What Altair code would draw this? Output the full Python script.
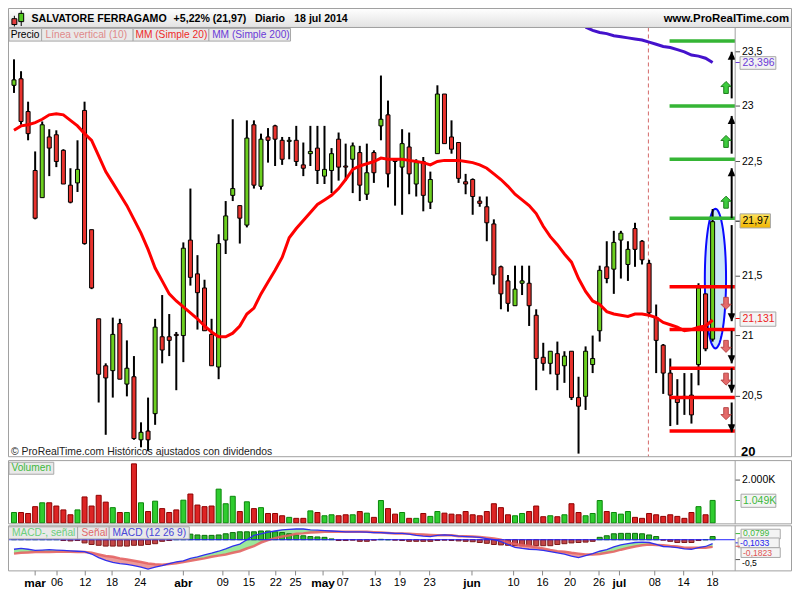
import math
import pandas as pd
import altair as alt

FONT = "Liberation Sans"
SX = 784 / 800
SY = 584 / 600


def X(v):
    return round(v * SX, 2)


def Y(v):
    return round(v * SY, 2)


# ------------------------------------------------------------------ data
opens = [23.19, 23.25, 22.95, 22.42, 22.18, 22.72, 22.74, 22.60, 22.29, 22.31,
         22.96, 21.90, 21.14, 20.75, 20.71, 21.10, 20.60, 20.66, 20.15, 20.22,
         20.36, 20.99, 20.99, 21.01, 21.00, 21.81, 21.52, 21.40, 21.01, 20.74,
         21.81, 22.20, 22.11, 21.94, 22.83, 22.28, 22.72, 22.82, 22.69, 22.68,
         22.69, 22.47, 22.57, 22.62, 22.37, 22.42, 22.70, 22.46, 22.52, 22.58,
         22.21, 22.58, 22.82, 22.92, 22.52, 22.45, 22.63, 22.30, 22.50, 22.14,
         22.57, 23.11, 22.72, 22.67, 22.32, 22.34, 22.15, 22.10, 21.95, 21.58,
         21.46, 21.25, 21.44, 21.44, 21.17, 20.82, 20.77, 20.85, 20.75, 20.87,
         20.49, 20.50, 20.76, 21.04, 21.58, 21.56, 21.81, 21.60, 21.91, 21.80,
         21.61, 21.15, 20.92, 20.69, 20.48, 20.50, 20.51, 20.76, 21.35, 20.97]
highs = [23.43, 23.32, 23.04, 22.59, 22.86, 22.79, 22.78, 22.61, 22.44, 22.69,
         23.04, 21.90, 21.14, 20.77, 21.15, 21.14, 20.96, 20.83, 20.29, 20.49,
         21.14, 21.34, 21.18, 21.03, 21.79, 22.26, 21.68, 21.47, 21.14, 21.86,
         22.15, 22.88, 22.11, 22.87, 22.87, 22.75, 22.80, 22.83, 22.72, 22.72,
         22.82, 22.67, 22.82, 22.82, 22.82, 22.62, 22.76, 22.66, 22.67, 22.64,
         22.66, 22.60, 23.28, 23.05, 22.52, 22.79, 22.76, 22.52, 22.54, 22.41,
         23.19, 23.11, 22.87, 22.67, 22.39, 22.35, 22.19, 22.19, 21.99, 21.59,
         21.51, 21.59, 21.59, 21.59, 21.22, 20.94, 20.87, 20.95, 20.87, 20.87,
         20.66, 20.91, 21.00, 21.59, 21.80, 21.89, 21.89, 21.80, 21.96, 21.81,
         21.64, 21.26, 20.93, 20.81, 20.64, 20.69, 20.69, 21.44, 21.35, 22.08]
lows = [23.12, 22.83, 22.69, 21.99, 22.18, 22.37, 22.45, 22.30, 22.13, 22.23,
        21.77, 21.39, 20.45, 20.19, 20.49, 20.64, 20.50, 20.15, 20.09, 20.06,
        20.27, 20.77, 20.83, 20.55, 20.78, 21.42, 21.05, 21.04, 20.75, 20.64,
        21.69, 22.15, 21.78, 21.92, 22.26, 22.25, 22.49, 22.46, 22.47, 22.52,
        22.46, 22.37, 22.46, 22.30, 22.30, 22.22, 22.33, 22.33, 22.22, 22.15,
        22.16, 22.31, 22.69, 22.27, 22.11, 22.03, 22.21, 22.19, 22.06, 22.08,
        22.57, 22.66, 22.57, 22.31, 22.21, 22.03, 22.10, 21.80, 21.43, 21.22,
        21.20, 21.25, 21.34, 21.08, 20.55, 20.71, 20.68, 20.55, 20.61, 20.47,
        20.04, 20.39, 20.69, 20.95, 21.44, 21.35, 21.48, 21.46, 21.58, 21.60,
        21.16, 20.69, 20.52, 20.26, 20.27, 20.35, 20.28, 20.59, 20.87, 20.95]
closes = [23.24, 22.86, 22.75, 22.00, 22.83, 22.62, 22.50, 22.30, 22.14, 22.43,
          21.78, 21.40, 20.68, 20.65, 21.01, 20.64, 20.73, 20.16, 20.21, 20.15,
          21.07, 20.88, 20.96, 21.00, 21.74, 21.49, 21.36, 21.04, 20.75, 21.78,
          22.02, 22.26, 22.00, 22.71, 22.29, 22.70, 22.69, 22.70, 22.52, 22.69,
          22.50, 22.44, 22.59, 22.42, 22.43, 22.57, 22.45, 22.45, 22.64, 22.29,
          22.40, 22.40, 22.88, 22.39, 22.50, 22.66, 22.39, 22.49, 22.20, 22.34,
          23.11, 22.66, 22.61, 22.35, 22.30, 22.19, 22.13, 21.96, 21.51, 21.35,
          21.27, 21.39, 21.46, 21.25, 20.81, 20.77, 20.87, 20.68, 20.83, 20.49,
          20.42, 20.87, 20.81, 21.55, 21.48, 21.79, 21.87, 21.73, 21.73, 21.64,
          21.19, 20.96, 20.69, 20.51, 20.45, 20.49, 20.35, 21.40, 20.89, 21.97]
volume_k = [485, 485, 439, 758, 939, 939, 788, 606, 379, 606,
            1212, 788, 1288, 970, 712, 485, 485, 2757, 939, 530,
            1015, 667, 485, 606, 1061, 1348, 833, 758, 788, 1576,
            894, 1242, 530, 985, 667, 712, 439, 439, 333, 258,
            212, 212, 561, 485, 333, 379, 333, 379, 379, 530,
            455, 258, 1045, 667, 409, 485, 212, 212, 439, 303,
            530, 455, 409, 379, 530, 379, 333, 530, 894, 712,
            379, 333, 439, 530, 788, 288, 333, 288, 379, 894,
            485, 333, 439, 1045, 530, 485, 409, 530, 258, 212,
            439, 379, 303, 379, 303, 212, 485, 758, 379, 1049]
ma20 = [22.78, 22.82, 22.83, 22.85, 22.88, 22.92, 22.93, 22.92, 22.87, 22.82,
        22.75, 22.69, 22.55, 22.41, 22.31, 22.21, 22.11, 21.99, 21.87, 21.73,
        21.57, 21.46, 21.35, 21.29, 21.24, 21.19, 21.14, 21.08, 21.03, 20.99,
        20.99, 21.02, 21.08, 21.18, 21.23, 21.35, 21.45, 21.55, 21.66, 21.83,
        21.91, 21.98, 22.05, 22.12, 22.16, 22.20, 22.26, 22.34, 22.43, 22.46,
        22.48, 22.50, 22.53, 22.52, 22.52, 22.52, 22.51, 22.50, 22.49, 22.47,
        22.50, 22.51, 22.51, 22.51, 22.50, 22.49, 22.47, 22.44, 22.39, 22.34,
        22.28, 22.21, 22.16, 22.11, 22.04, 21.93, 21.84, 21.77, 21.69, 21.62,
        21.48, 21.37, 21.29, 21.26, 21.20, 21.18, 21.17, 21.16, 21.18, 21.18,
        21.17, 21.15, 21.11, 21.09, 21.07, 21.04, 21.05, 21.07, 21.08, 21.13]
ma200_first = 81
ma200 = [23.73, 23.70, 23.68, 23.67, 23.65, 23.64, 23.63, 23.62, 23.61, 23.59,
         23.57, 23.55, 23.54, 23.52, 23.50, 23.47, 23.46, 23.44, 23.40]
macd = [-0.24, -0.22, -0.24, -0.27, -0.26, -0.25, -0.26, -0.27, -0.28, -0.29,
        -0.30, -0.36, -0.45, -0.52, -0.57, -0.60, -0.62, -0.65, -0.69, -0.74,
        -0.69, -0.65, -0.60, -0.56, -0.53, -0.47, -0.43, -0.38, -0.34, -0.29,
        -0.23, -0.16, -0.11, 0.00, 0.11, 0.15, 0.19, 0.22, 0.25, 0.26,
        0.27, 0.27, 0.25, 0.24, 0.23, 0.22, 0.21, 0.20, 0.20, 0.20,
        0.19, 0.18, 0.18, 0.17, 0.16, 0.16, 0.14, 0.11, 0.09, 0.08,
        0.11, 0.12, 0.11, 0.09, 0.08, 0.07, 0.06, 0.03, 0.00, -0.05,
        -0.12, -0.19, -0.22, -0.24, -0.25, -0.27, -0.30, -0.33, -0.36, -0.41,
        -0.45, -0.40, -0.35, -0.29, -0.25, -0.18, -0.13, -0.10, -0.07, -0.06,
        -0.07, -0.12, -0.17, -0.18, -0.20, -0.23, -0.24, -0.20, -0.17, -0.10]
signal = [-0.35, -0.33, -0.32, -0.31, -0.31, -0.31, -0.30, -0.30, -0.30, -0.31,
          -0.31, -0.33, -0.37, -0.41, -0.43, -0.47, -0.50, -0.53, -0.56, -0.60,
          -0.62, -0.63, -0.61, -0.59, -0.56, -0.53, -0.50, -0.47, -0.43, -0.40,
          -0.37, -0.33, -0.29, -0.22, -0.16, -0.07, -0.01, 0.04, 0.08, 0.11,
          0.15, 0.16, 0.18, 0.19, 0.20, 0.20, 0.20, 0.20, 0.20, 0.20,
          0.20, 0.19, 0.18, 0.17, 0.16, 0.16, 0.15, 0.14, 0.13, 0.12,
          0.11, 0.11, 0.11, 0.09, 0.09, 0.08, 0.07, 0.05, 0.03, 0.00,
          -0.07, -0.11, -0.14, -0.16, -0.19, -0.22, -0.26, -0.29, -0.30, -0.33,
          -0.35, -0.37, -0.37, -0.36, -0.33, -0.30, -0.25, -0.21, -0.17, -0.14,
          -0.12, -0.13, -0.14, -0.16, -0.17, -0.20, -0.20, -0.20, -0.20, -0.18]
hist = [0.10, 0.10, 0.07, 0.04, 0.04, 0.05, 0.03, -0.02, -0.03, -0.02,
        -0.08, -0.12, -0.14, -0.16, -0.16, -0.16, -0.16, -0.14, -0.14, -0.12,
        -0.10, -0.04, -0.02, 0.02, 0.07, 0.14, 0.12, 0.11, 0.11, 0.12,
        0.15, 0.18, 0.20, 0.20, 0.20, 0.22, 0.22, 0.20, 0.18, 0.15,
        0.12, 0.10, 0.08, 0.07, 0.06, 0.02, -0.02, -0.02, -0.01, -0.04,
        -0.04, -0.01, 0.01, 0.00, -0.01, -0.02, -0.04, -0.04, -0.04, -0.04,
        -0.02, -0.01, -0.02, -0.03, -0.04, -0.05, -0.07, -0.09, -0.12, -0.13,
        -0.14, -0.14, -0.15, -0.15, -0.15, -0.15, -0.15, -0.12, -0.10, -0.08,
        -0.07, -0.06, -0.04, 0.06, 0.10, 0.15, 0.16, 0.16, 0.16, 0.15,
        0.12, 0.08, -0.01, -0.04, -0.07, -0.07, -0.07, -0.02, 0.00, 0.08]

date_labels = ["mar", "06", "12", "18", "24", "abr", "09", "15", "22", "25", "may", "07",
               "13", "19", "23", "jun", "10", "16", "20", "26", "jul", "08", "14", "18"]
date_pos = [3.0, 6.1, 10.1, 13.9, 17.9, 24.0, 29.6, 33.3, 37.1, 39.9, 43.8, 46.6,
            51.2, 54.7, 58.9, 64.9, 70.8, 74.9, 78.8, 82.9, 85.8, 90.8, 94.9, 99.0]
month_names = ["mar", "abr", "may", "jun", "jul"]

price_ticks = [23.5, 23.0, 22.5, 21.5, 21.0, 20.5]
price_tick_text = ["23,5", "23", "22,5", "21,5", "21", "20,5"]

green_levels = [22.00, 22.52, 23.00, 23.60]
red_levels = [21.41, 21.05, 20.73, 20.49, 20.22]
level_from, level_to = 92.9, 102.2
up_from = [22.00, 22.57, 23.07]
up_to = [22.44, 22.91, 23.50]
down_from = [21.94, 21.04, 20.73, 20.45]
down_to = [21.12, 20.77, 20.53, 20.21]
arrow_i = 101.7
up_marks = [23.17, 22.68, 22.14]
down_marks = [21.27, 20.91, 20.64, 20.36]
mark_i = 100.9
vline_i = 89.9
ellipse_i, ellipse_p = 99.4, 21.48

# ------------------------------------------------------------------ frames
n = len(opens)
df = pd.DataFrame({"i": list(range(n)), "o": opens, "h": highs, "l": lows, "c": closes,
                   "v": volume_k, "ma": ma20, "m": macd, "s": signal, "hh": hist})
df200 = pd.DataFrame({"i": list(range(ma200_first, ma200_first + len(ma200))), "p": ma200})
ONE = pd.DataFrame({"k": [0]})

XS = alt.Scale(domain=[0, 99], range=[X(6.1), X(719.0)], nice=False, zero=False, padding=0)
PS = alt.Scale(type="log", domain=[20, 23.5], range=[Y(463.0), Y(45.0)], nice=False, padding=0)
VS = alt.Scale(domain=[0, 2000], range=[Y(529.0), Y(485.0)], nice=False, zero=False, padding=0)
MS = alt.Scale(domain=[-0.5, 0], range=[Y(566.7), Y(546.3)], nice=False, zero=False, padding=0)


def xq(f="i"):
    return alt.X(f"{f}:Q", scale=XS, axis=None)


def yp(f):
    return alt.Y(f"{f}:Q", scale=PS, axis=None)


def txt(t, x, y, size=10.2, color="#000000", weight="normal", align="left"):
    return alt.Chart(ONE).mark_text(align=align, baseline="middle", font=FONT, fontSize=size,
                                    fontWeight=weight, color=color).encode(
        x=alt.value(X(x)), y=alt.value(Y(y)), text=alt.value(t))


def box(x1, y1, x2, y2, fill="#e9e9e9", stroke="#a8a8a8", sw=1):
    kw = dict(fill=fill, strokeWidth=sw)
    if stroke:
        kw["stroke"] = stroke
    return alt.Chart(ONE).mark_rect(**kw).encode(
        x=alt.value(X(x1)), x2=alt.value(X(x2)), y=alt.value(Y(y1)), y2=alt.value(Y(y2)))


def frame(x1, y1, x2, y2, stroke="#a0a0a0"):
    return alt.Chart(ONE).mark_rect(fillOpacity=0, stroke=stroke, strokeWidth=1).encode(
        x=alt.value(X(x1)), x2=alt.value(X(x2)), y=alt.value(Y(y1)), y2=alt.value(Y(y2)))


def hseg(x1, x2, y, color, sw=1):
    return alt.Chart(ONE).mark_rule(color=color, strokeWidth=sw).encode(
        x=alt.value(X(x1)), x2=alt.value(X(x2)), y=alt.value(Y(y)))


def vseg(x, y1, y2, color, sw=1):
    return alt.Chart(ONE).mark_rule(color=color, strokeWidth=sw).encode(
        x=alt.value(X(x)), y=alt.value(Y(y1)), y2=alt.value(Y(y2)))


GREEN_C, RED_C = "#6ccf1f", "#e8322d"
up_cond = alt.datum.c >= alt.datum.o

# shapes
ell_pts = [(0.152 * math.cos(2 * math.pi * k / 64), math.sin(2 * math.pi * k / 64)) for k in range(64)]
ELLIPSE = "M" + " L".join(f"{a:.4f},{b:.4f}" for a, b in ell_pts) + " Z"
HEAD_UP = "M0,0 L0.55,1.1 L-0.55,1.1 Z"
HEAD_DOWN = "M0,0 L0.55,-1.1 L-0.55,-1.1 Z"
BLOCK_UP = "M0,-1 L0.85,-0.15 L0.38,-0.15 L0.38,1 L-0.38,1 L-0.38,-0.15 L-0.85,-0.15 Z"
BLOCK_DOWN = "M0,1 L0.85,0.15 L0.38,0.15 L0.38,-1 L-0.38,-1 L-0.38,0.15 L-0.85,0.15 Z"

layers = []

# panel backgrounds
layers += [box(0.5, 20, 799.5, 461, fill="#ffffff", stroke=None),
           box(0.5, 465, 799.5, 530, fill="#ffffff", stroke=None),
           box(0.5, 532, 799.5, 578.3, fill="#ffffff", stroke=None)]

# ---------------- price panel
layers.append(alt.Chart(pd.DataFrame({"i": [ellipse_i], "p": [ellipse_p]})).mark_point(
    shape=ELLIPSE, size=round((2 * Y(71.7)) ** 2), filled=True, fill="#cce7f8", stroke="#0a0aff",
    strokeWidth=2, opacity=1).encode(x=xq(), y=yp("p")))
layers.append(alt.Chart(pd.DataFrame({"i": [vline_i]})).mark_rule(
    color="#d46a6a", strokeDash=[4, 3], strokeWidth=1).encode(
    x=xq(), y=alt.value(Y(20)), y2=alt.value(Y(461))))
layers.append(alt.Chart(df).mark_rule(color="black", strokeWidth=2).encode(
    x=xq(), y=yp("l"), y2="h:Q"))
layers.append(alt.Chart(df).mark_bar(size=4, stroke="black", strokeWidth=1).encode(
    x=xq(), y=yp("o"), y2="c:Q",
    color=alt.condition(up_cond, alt.value(GREEN_C), alt.value(RED_C))))
layers.append(alt.Chart(df).mark_line(color="#ff0000", strokeWidth=3).encode(x=xq(), y=yp("ma")))
layers.append(alt.Chart(df200).mark_line(color="#4412cc", strokeWidth=3).encode(x=xq(), y=yp("p")))

lv_g = pd.DataFrame({"p": green_levels, "a": level_from, "b": level_to})
lv_r = pd.DataFrame({"p": red_levels, "a": level_from, "b": level_to})
layers.append(alt.Chart(lv_g).mark_rule(color="#35b535", strokeWidth=3.5).encode(
    x=xq("a"), x2="b:Q", y=yp("p")))
layers.append(alt.Chart(lv_r).mark_rule(color="#ff0000", strokeWidth=3.5).encode(
    x=xq("a"), x2="b:Q", y=yp("p")))

ar_up = pd.DataFrame({"i": arrow_i, "a": up_from, "b": up_to})
ar_dn = pd.DataFrame({"i": arrow_i, "a": down_from, "b": down_to})
for d, head in ((ar_up, HEAD_UP), (ar_dn, HEAD_DOWN)):
    layers.append(alt.Chart(d).mark_rule(color="black", strokeWidth=2).encode(
        x=xq(), y=yp("a"), y2="b:Q"))
    layers.append(alt.Chart(d).mark_point(shape=head, size=210, filled=True, color="black",
                                          opacity=1).encode(x=xq(), y=yp("b")))
layers.append(alt.Chart(pd.DataFrame({"i": mark_i, "p": up_marks})).mark_point(
    shape=BLOCK_UP, size=144, filled=True, fill="#3dcc3d", stroke="#1d7d1d", strokeWidth=1,
    opacity=1).encode(x=xq(), y=yp("p")))
layers.append(alt.Chart(pd.DataFrame({"i": mark_i, "p": down_marks})).mark_point(
    shape=BLOCK_DOWN, size=144, filled=True, fill="#e46a6a", stroke="#b84848", strokeWidth=1,
    opacity=1).encode(x=xq(), y=yp("p")))

layers.append(txt("© ProRealTime.com  Históricos ajustados con dividendos", 3, 456,
                  size=10.4, color="#222222"))

# legend row of price panel
layers += [box(1, 21, 34.3, 34), txt("Precio", 2.7, 27.7, color="#000000"),
           box(34.3, 21, 127.7, 34), txt("Línea vertical (10)", 38.3, 27.7, color="#e08a8a"),
           box(127.7, 21, 205, 34), txt("MM (Simple 20)", 130, 27.7, color="#ee2a2a"),
           box(205, 21, 288.3, 34), txt("MM (Simple 200)", 208.3, 27.7, color="#6a3ad8")]

# ---------------- volume panel
layers.append(alt.Chart(df).mark_bar(size=5, strokeWidth=1).encode(
    x=xq(), y=alt.Y("v:Q", scale=VS, axis=None), y2=alt.datum(0),
    color=alt.condition(up_cond, alt.value("#2fcc2f"), alt.value("#dd2424")),
    stroke=alt.condition(up_cond, alt.value("#0a870a"), alt.value("#8f0000"))))
layers += [box(1, 466.7, 46.7, 479), txt("Volumen", 3.5, 473, color="#3cb83c")]

# ---------------- MACD panel
mdf = alt.Chart(df).transform_calculate(up="max(datum.m, datum.s)", lo="min(datum.m, datum.s)")
layers.append(mdf.mark_area(color="#9be89b", opacity=1).encode(
    x=xq(), y=alt.Y("up:Q", scale=MS, axis=None), y2="s:Q"))
layers.append(mdf.mark_area(color="#ec9a9a", opacity=1).encode(
    x=xq(), y=alt.Y("s:Q", scale=MS, axis=None), y2="lo:Q"))
layers.append(alt.Chart(df).mark_bar(size=5, strokeWidth=1).encode(
    x=xq(), y=alt.Y("hh:Q", scale=MS, axis=None), y2=alt.datum(0),
    color=alt.condition(alt.datum.hh >= 0, alt.value("#2db82d"), alt.value("#c24646")),
    stroke=alt.condition(alt.datum.hh >= 0, alt.value("#0b700b"), alt.value("#7d1a1a"))))
layers.append(alt.Chart(df).mark_line(color="#e46464", strokeWidth=2.5, opacity=0.9).encode(
    x=xq(), y=alt.Y("s:Q", scale=MS, axis=None)))
layers.append(alt.Chart(df).mark_line(color="#3030ee", strokeWidth=1.3).encode(
    x=xq(), y=alt.Y("m:Q", scale=MS, axis=None)))
layers.append(alt.Chart(ONE).mark_rule(color="#2222ff", strokeWidth=1).encode(
    x=alt.value(0), x2=alt.value(X(742)), y=alt.Y(datum=0, scale=MS, axis=None)))
layers += [box(0.5, 533, 71, 545.5), txt("MACD-, señal", 4, 539.3, color="#6ccf7c"),
           box(71, 533, 103.3, 545.5), txt("Señal", 75, 539.3, color="#e26a6a"),
           box(103.3, 533, 185, 545.5), txt("MACD (12 26 9)", 106.7, 539.3, color="#4646d8")]

# ---------------- right axis area
layers += [box(742, 20, 799.5, 461, fill="#ffffff", stroke=None),
           box(742, 465, 799.5, 530, fill="#ffffff", stroke=None),
           box(742, 532, 799.5, 578.3, fill="#ffffff", stroke=None)]
ptk = pd.DataFrame({"p": price_ticks, "t": price_tick_text})
layers.append(alt.Chart(ptk).mark_rule(color="#555555").encode(
    x=alt.value(X(742)), x2=alt.value(X(747)), y=yp("p")))
layers.append(alt.Chart(ptk).mark_text(align="left", baseline="middle", font=FONT, fontSize=10.5,
                                       color="#000000").encode(
    x=alt.value(X(749)), y=yp("p"), text="t:N"))
layers.append(alt.Chart(pd.DataFrame({"p": [20.0], "t": ["20"]})).mark_text(
    align="left", baseline="middle", font=FONT, fontSize=13, fontWeight="bold", dy=-7,
    color="#000000").encode(x=alt.value(X(748)), y=yp("p"), text="t:N"))

layers += [hseg(742, 747, 56, "#6a3ad8"), box(747, 50, 783.5, 63, fill="#f2f2f2"),
           txt("23,396", 749.5, 56.7, size=10.5, color="#6a3ad8"),
           hseg(742, 747, 219, "#000000"),
           box(747, 211.5, 778, 226,
               fill={"gradient": "linear", "x1": 0, "y1": 0, "x2": 0, "y2": 1,
                     "stops": [{"offset": 0, "color": "#ffe45c"}, {"offset": 1, "color": "#f0b400"}]}),
           txt("21,97", 749.5, 218.8, size=10.5, color="#000000"),
           hseg(742, 747, 319, "#ff0000"), box(747, 312.3, 783.5, 327, fill="#f4f4f4"),
           txt("21,131", 749.5, 319.7, size=10.5, color="#ee2222")]

# volume axis
layers += [hseg(742, 747, 485, "#555555"), txt("2.000K", 749, 485, size=10.5, color="#000000"),
           hseg(742, 747, 506, "#3cb83c"), box(748, 499.5, 783.5, 513, fill="#f4f4f4"),
           txt("1.049K", 750, 506.3, size=10.5, color="#3cb83c")]

# MACD axis
layers.append(alt.Chart(pd.DataFrame({"p": [-0.5], "t": ["-0,5"]})).mark_text(
    align="left", baseline="middle", font=FONT, fontSize=8.6, dy=3.6, color="#000000").encode(
    x=alt.value(X(749)), y=alt.Y("p:Q", scale=MS, axis=None), text="t:N"))
layers += [hseg(742, 747, 566.7, "#555555"),
           hseg(742, 747, 540, "#3cb83c"), box(748, 535.5, 788, 545.5, fill="#f4f4f4"),
           txt("0,0799", 750, 539.8, size=8.6, color="#3cb83c"),
           hseg(742, 747, 549.5, "#2222ee"), box(745, 544.5, 787, 554.5, fill="#f4f4f4"),
           txt("-0,1033", 747, 549.7, size=8.6, color="#2222ee"),
           hseg(742, 747, 553, "#e05555"), box(748, 554.5, 788, 564.5, fill="#f4f4f4"),
           txt("-0,1823", 750, 559.8, size=8.6, color="#e05555")]

# panel outlines and divider
layers += [frame(0.5, 20, 799.5, 461), frame(0.5, 465, 799.5, 530), frame(0.5, 532, 799.5, 578.3),
           vseg(742, 20, 461, "#a0a0a0"), vseg(742, 465, 530, "#a0a0a0"), vseg(742, 532, 578.3, "#a0a0a0")]

# ---------------- header
layers += [box(0.5, 0.5, 799.5, 20,
               fill={"gradient": "linear", "x1": 0, "y1": 0, "x2": 0, "y2": 1,
                     "stops": [{"offset": 0, "color": "#ffffff"}, {"offset": 1, "color": "#e2e2e2"}]},
               stroke="#a0a0a0"),
           vseg(6.5, 8, 19, "#000000"), box(4, 11, 9, 17, fill="#e23a3a", stroke="#000000"),
           vseg(13.5, 2.5, 18.5, "#000000"), box(11, 5.5, 16, 14, fill="#55cc22", stroke="#000000"),
           txt("SALVATORE FERRAGAMO", 24, 10.8, size=10.6, weight="bold"),
           txt("+5,22% (21,97)", 169, 10.8, size=10.6, weight="bold"),
           txt("Diario", 252, 10.8, size=10.6, weight="bold"),
           txt("18 jul 2014", 292, 10.8, size=10.6, weight="bold"),
           txt("www.ProRealTime.com", 797, 10.8, size=11.4, weight="bold", align="right")]

# ---------------- date axis
dates = pd.DataFrame({"i": date_pos, "t": date_labels})
dates["kind"] = ["month" if t in month_names else "day" for t in date_labels]
layers.append(alt.Chart(dates).mark_rule(color="#888888").encode(
    x=xq(), y=alt.value(Y(578.3)), y2=alt.value(Y(583))))
layers.append(alt.Chart(dates).transform_filter(alt.datum.kind == "month").mark_text(
    baseline="middle", font=FONT, fontSize=11.8, fontWeight="bold", color="#000000").encode(
    x=xq(), y=alt.value(Y(591)), text="t:N"))
layers.append(alt.Chart(dates).transform_filter(alt.datum.kind == "day").mark_text(
    baseline="middle", font=FONT, fontSize=11, color="#000000").encode(
    x=xq(), y=alt.value(Y(591)), text="t:N"))

chart = alt.layer(*layers).resolve_scale(y="independent").properties(
    width=784, height=584, autosize=alt.AutoSizeParams(type="none"), padding=0,
    background="white").configure_view(strokeWidth=0)

chart.save("out.html", embed_options={"renderer": "svg", "actions": False})
